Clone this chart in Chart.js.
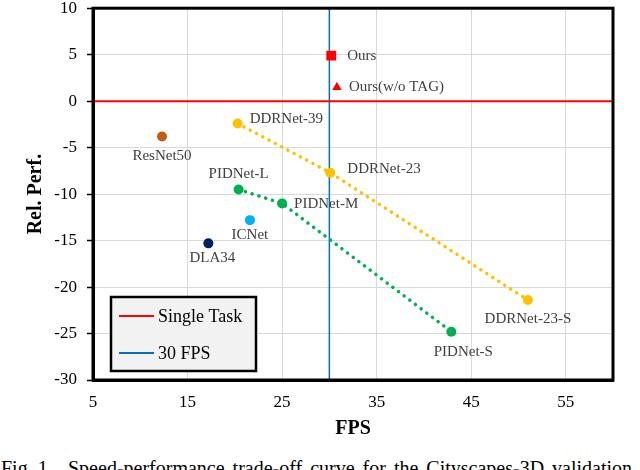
<!DOCTYPE html>
<html>
<head>
<meta charset="utf-8">
<script src="https://cdn.jsdelivr.net/npm/chart.js@4.4.1/dist/chart.umd.min.js"></script>
<style>
  html, body { margin: 0; padding: 0; background: #fff; }
  #page { position: relative; width: 640px; height: 470px; overflow: hidden; }
  #box { position: absolute; left: 0; top: -12px; width: 640px; height: 460px; }
  .cap { position: absolute; top: 458px; font: 20px 'Liberation Serif', serif; color: #000; white-space: nowrap; line-height: 1; }
</style>
</head>
<body>
<div id="page">
  <div id="box"><canvas id="perfChart" width="640" height="460"></canvas></div>
  <div class="cap" style="left:1px">Fig. 1.</div>
  <div class="cap" style="left:68px; word-spacing:3px">Speed-performance trade-off curve for the Cityscapes-3D validation set.</div>
</div>
<script>
// данные
const ddrNames = ['DDRNet-39', 'DDRNet-23', 'DDRNet-23-S'];
const ddrFps = [20.3, 30.1, 51.0];
const ddrPerf = [-2.4, -7.7, -21.4];

const pidNames = ['PIDNet-L', 'PIDNet-M', 'PIDNet-S'];
const pidFps = [20.4, 25.0, 42.9];
const pidPerf = [-9.5, -11.0, -24.8];

const oursNames = ['Ours', 'Ours(w/o TAG)'];
const oursFps = [30.2, 30.8];
const oursPerf = [4.9, 1.5];

const otherNames = ['ResNet50', 'ICNet', 'DLA34'];
const otherFps = [12.3, 21.6, 17.2];
const otherPerf = [-3.8, -12.8, -15.3];

const singleTaskPerf = 0;
const fpsLine = 30;
const xTicks = [5, 15, 25, 35, 45, 55];
const xRange = [5, 60];
const yRange = [-30, 10];

// where each label sits relative to its point (style only)
const labelPlace = {
  'Ours': [16, 0, 'left'],
  'Ours(w/o TAG)': [12, 0, 'left'],
  'DDRNet-39': [12, -4, 'left'],
  'DDRNet-23': [17, -4, 'left'],
  'DDRNet-23-S': [0, 19, 'center'],
  'PIDNet-L': [0, -15, 'center'],
  'PIDNet-M': [12, 1, 'left'],
  'PIDNet-S': [12, 20, 'center'],
  'ResNet50': [0, 20, 'center'],
  'ICNet': [0, 15, 'center'],
  'DLA34': [4, 15, 'center']
};

const serif = "'Liberation Serif', 'Times New Roman', serif";
const toXY = (xs, ys) => xs.map((x, i) => ({ x: x, y: ys[i] }));

const labelPlugin = {
  id: 'pointLabels',
  afterDatasetsDraw(chart) {
    const c = chart.ctx;
    c.save();
    c.font = '15px ' + serif;
    c.fillStyle = '#404040';
    c.textBaseline = 'middle';
    chart.data.datasets.forEach((ds, i) => {
      if (!ds.names) return;
      chart.getDatasetMeta(i).data.forEach((pt, j) => {
        const name = ds.names[j];
        const p = labelPlace[name];
        c.textAlign = p[2];
        c.fillText(name, pt.x + p[0], pt.y + p[1]);
      });
    });
    c.restore();
  }
};

const framePlugin = {
  id: 'frameAndLegend',
  afterDraw(chart) {
    const c = chart.ctx;
    const a = chart.chartArea;
    c.save();
    c.strokeStyle = '#000';
    c.lineWidth = 3;
    c.strokeRect(a.left, a.top, a.right - a.left, a.bottom - a.top);

    // legend box
    const bx = a.left + 18, by = a.bottom - 83, bw = 145, bh = 74;
    c.fillStyle = '#F2F2F2';
    c.fillRect(bx, by, bw, bh);
    c.lineWidth = 2.5;
    c.strokeRect(bx, by, bw, bh);
    const items = [['Single Task', '#FF0000'], ['30 FPS', '#0070C0']];
    c.font = '18px ' + serif;
    c.textBaseline = 'middle';
    c.textAlign = 'left';
    items.forEach((it, k) => {
      const yy = by + 19 + k * 37;
      c.strokeStyle = it[1];
      c.lineWidth = 2;
      c.beginPath();
      c.moveTo(bx + 8, yy);
      c.lineTo(bx + 43, yy);
      c.stroke();
      c.fillStyle = '#000';
      c.fillText(it[0], bx + 47, yy + 1);
    });
    c.restore();
  }
};

const ctx = document.getElementById('perfChart').getContext('2d');
const chart = new Chart(ctx, {
  type: 'scatter',
  data: {
    datasets: [
      {
        label: 'Ours', names: oursNames.slice(0, 1),
        data: toXY(oursFps.slice(0, 1), oursPerf.slice(0, 1)),
        pointStyle: 'rect', pointRadius: 7, backgroundColor: '#FF0000', borderWidth: 0, order: 0
      },
      {
        label: 'Ours(w/o TAG)', names: oursNames.slice(1),
        data: toXY(oursFps.slice(1), oursPerf.slice(1)),
        pointStyle: 'triangle', pointRadius: 5.5, backgroundColor: '#FF0000', borderWidth: 0, order: 0
      },
      {
        label: 'DDRNet', names: ddrNames, data: toXY(ddrFps, ddrPerf),
        showLine: true, borderColor: '#FFC000', borderWidth: 3.5, borderDash: [0.1, 7], borderCapStyle: 'round',
        pointRadius: 5, backgroundColor: '#FFC000', pointBorderWidth: 0, order: 1
      },
      {
        label: 'PIDNet', names: pidNames, data: toXY(pidFps, pidPerf),
        showLine: true, borderColor: '#00B050', borderWidth: 3.5, borderDash: [0.1, 7], borderCapStyle: 'round',
        pointRadius: 5, backgroundColor: '#00B050', pointBorderWidth: 0, order: 1
      },
      {
        label: 'Others', names: otherNames, data: toXY(otherFps, otherPerf),
        pointRadius: 5, backgroundColor: ['#C55A11', '#00B0F0', '#002060'], pointBorderWidth: 0, order: 1
      },
      {
        label: 'Single Task', data: toXY(xRange, [singleTaskPerf, singleTaskPerf]),
        showLine: true, borderColor: '#FF0000', borderWidth: 2, pointRadius: 0, order: 5
      },
      {
        label: '30 FPS', data: toXY([fpsLine, fpsLine], yRange),
        showLine: true, borderColor: '#0070C0', borderWidth: 1.5, pointRadius: 0, order: 5
      }
    ]
  },
  options: {
    responsive: false,
    animation: false,
    layout: { padding: { top: 17, right: 27, left: 0, bottom: 0 } },
    plugins: { legend: { display: false }, tooltip: { enabled: false } },
    scales: {
      x: {
        type: 'linear', min: xRange[0], max: xRange[1],
        afterBuildTicks: s => { s.ticks = xTicks.map(v => ({ value: v })); },
        afterFit: s => { s.height = 68; },
        grid: { color: '#D9D9D9', drawTicks: false },
        border: { color: '#000', width: 3 },
        ticks: { color: '#000', font: { family: serif, size: 17 }, padding: 12 },
        title: { display: true, text: 'FPS', color: '#000', font: { family: serif, size: 20, weight: 'bold' }, padding: { top: 0, bottom: 7 } }
      },
      y: {
        type: 'linear', min: yRange[0], max: yRange[1],
        afterFit: s => { s.width = 93; },
        grid: { color: '#D9D9D9', tickColor: '#000', tickLength: 6, tickWidth: 1.5 },
        border: { color: '#000', width: 3 },
        ticks: { stepSize: 5, color: '#000', font: { family: serif, size: 17 }, padding: 10 },
        title: { display: true, text: 'Rel. Perf.', color: '#000', font: { family: serif, size: 20, weight: 'bold' }, padding: { top: 24, bottom: 0 } }
      }
    }
  },
  plugins: [labelPlugin, framePlugin]
});
</script>
</body>
</html>
